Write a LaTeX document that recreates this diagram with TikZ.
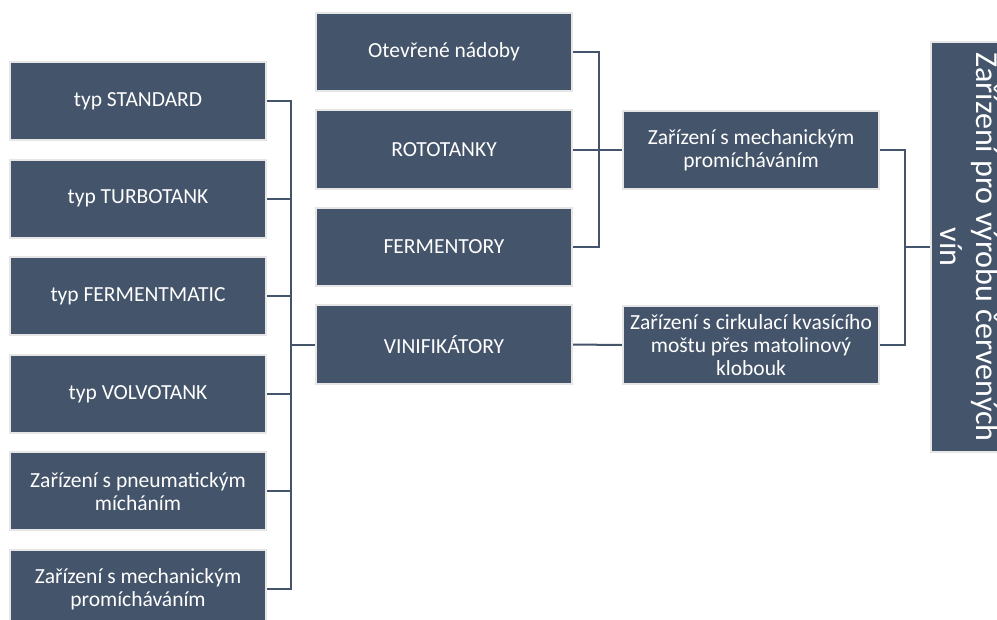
\documentclass[tikz,border=0pt]{standalone}
\usepackage{fontspec}
\setmainfont{Carlito}
\definecolor{boxblue}{HTML}{44546A}
\definecolor{boxrim}{HTML}{E7E6E6}

\begin{document}
\begin{tikzpicture}[x=0.025cm,y=-0.025cm,
        box/.style={fill=boxblue,draw=boxrim,line width=0.05cm,text=white,align=center,
          minimum width=6.4cm,minimum height=1.95cm,inner sep=2pt,
          font=\fontsize{15.3}{16.3}\selectfont},
        rootbox/.style={box,rotate=-90,minimum width=10.25cm,
          font=\fontsize{22.8}{25.5}\selectfont},
        link/.style={draw=boxblue,line width=0.05cm},
        ]
        \useasboundingbox (0,0) rectangle (997,619);
        % left column
        \node[box] (standard) at (138,101) {typ STANDARD};
        \node[box] (turbotank) at (138,198.6) {typ TURBOTANK};
        \node[box] (fermentmatic) at (138,296.2) {typ FERMENTMATIC};
        \node[box] (volvotank) at (138,393.8) {typ VOLVOTANK};
        \node[box] (pneumatic) at (138,491.4) {Zařízení s pneumatickým\\mícháním};
        \node[box] (mechanic) at (138,589) {Zařízení s mechanickým\\promícháváním};
        % middle column
        \node[box] (open) at (444,52) {Otevřené nádoby};
        \node[box] (rototank) at (444,149.5) {ROTOTANKY};
        \node[box] (fermentor) at (444,247) {FERMENTORY};
        \node[box] (vinificator) at (444,344.5) {VINIFIKÁTORY};
        % right column
        \node[box] (mixing) at (751,150) {Zařízení s mechanickým\\promícháváním};
        \node[box] (circulation) at (751,345) {Zařízení s cirkulací kvasícího\\moštu přes matolinový\\klobouk};
        \node[rootbox] (root) at (970,247) {Zařízení pro výrobu červených\\vín};
        % connectors
        \draw[link] (standard.east) -- ++(24,0) |- (vinificator.west);
        \draw[link] (turbotank.east) -- ++(24,0) |- (vinificator.west);
        \draw[link] (fermentmatic.east) -- ++(24,0) |- (vinificator.west);
        \draw[link] (volvotank.east) -- ++(24,0) |- (vinificator.west);
        \draw[link] (pneumatic.east) -- ++(24,0) |- (vinificator.west);
        \draw[link] (mechanic.east) -- ++(24,0) |- (vinificator.west);
        \draw[link] (open.east) -- ++(26,0) |- (mixing.west);
        \draw[link] (rototank.east) -- ++(26,0) |- (mixing.west);
        \draw[link] (fermentor.east) -- ++(26,0) |- (mixing.west);
        \draw[link] (vinificator.east) -- (circulation.west);
        % root is turned, its south side faces left
        \draw[link] (mixing.east) -- ++(25,0) |- (root.south);
        \draw[link] (circulation.east) -- ++(25,0) |- (root.south);
      \end{tikzpicture}
\end{document}
